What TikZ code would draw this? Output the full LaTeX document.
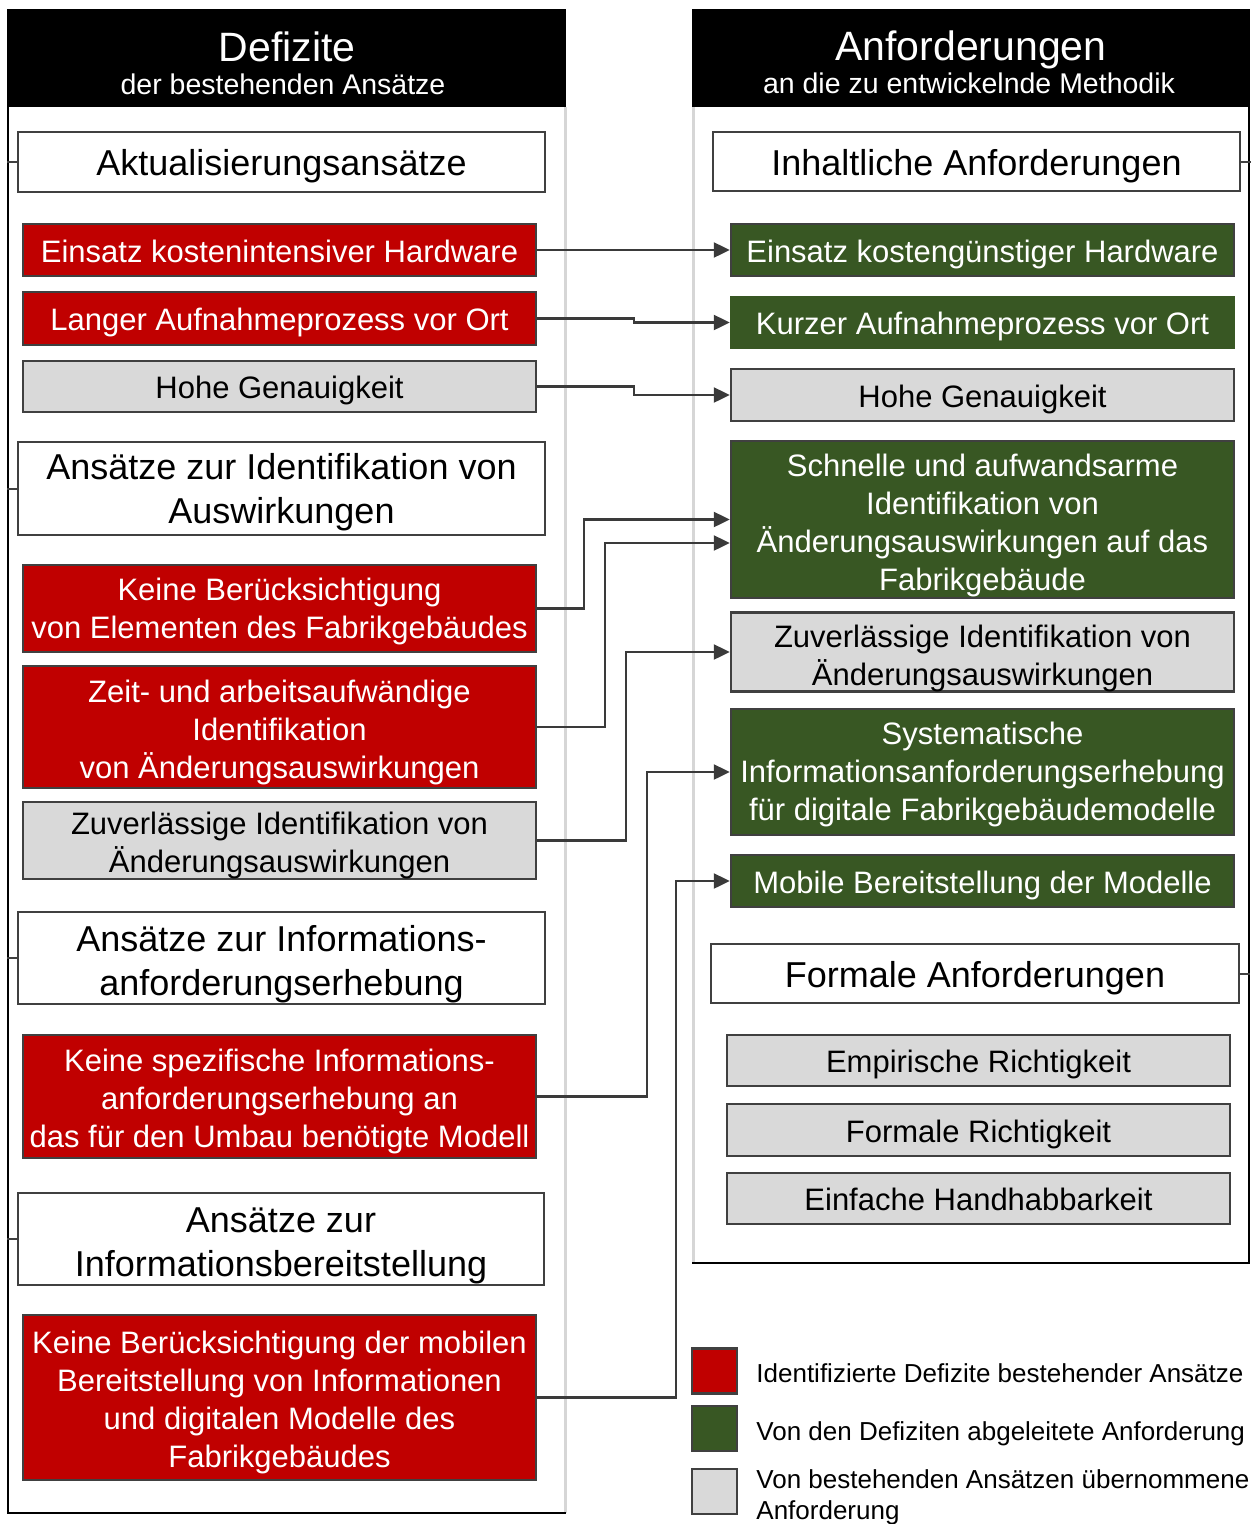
\documentclass[tikz,border=0pt]{standalone}
\usepackage{fontspec}
\setmainfont{Liberation Sans}
\usetikzlibrary{arrows.meta}

\definecolor{defred}{HTML}{C00000}
\definecolor{reqgreen}{HTML}{385723}
\definecolor{takengray}{HTML}{D9D9D9}
\definecolor{edgegray}{HTML}{404040}
\definecolor{wirecol}{HTML}{3A3A3A}
\definecolor{sidegray}{HTML}{D6D6D6}

% box given by its left, top, right and bottom edges
\newcommand\mkbox[6]{\node[#1, minimum width={#4-#2}, minimum height={#5-#3}] (#6) at ({(#2+#4)/2},{(#3+#5)/2})}
% fixed line box (ascent and descent of the font), so text sits at the same
% height whatever letters it contains
\newcommand\linestrut{\rule[-0.212em]{0pt}{1.117em}}

\tikzset{
  drop/.style={execute at begin node={\rule[-0.212em]{0pt}{\dimexpr1.117em+#1\relax}}},
  % text block of several lines: the strut stands on the last baseline and
  % reaches above the first line
  multiadj/.style 2 args={execute at begin node={\rule{0pt}{\dimexpr1.05em+#1\baselineskip+#2\relax}}},
  multi/.style={multiadj={#1}{0pt}},
  base/.style={draw=edgegray, line width=2.4pt, inner sep=0pt, align=center,
               font=\fontsize{31}{38}\selectfont,
               drop=3pt, execute at end node=\linestrut},
  redbox/.style={base, fill=defred, text=white},
  greenbox/.style={base, fill=reqgreen, text=white},
  graybox/.style={base, fill=takengray, text=black},
  catbox/.style={base, fill=white, text=black, font=\fontsize{36}{44}\selectfont},
  headtitle/.style={text=white, inner sep=0pt, anchor=base, font=\fontsize{41}{48}\selectfont},
  headsub/.style={text=white, inner sep=0pt, anchor=base, font=\fontsize{28.5}{34}\selectfont},
  tick/.style={draw=edgegray, line width=2pt},
  conn/.style={draw=wirecol, line width=2.2pt, -{Triangle[length=16pt, width=15pt]}},
  legbox/.style={draw=edgegray, line width=2.4pt, inner sep=0pt, minimum size=45},
  legtext/.style={anchor=west, inner sep=0pt, align=left, font=\fontsize{26}{31}\selectfont,
               execute at begin node=\linestrut, execute at end node=\linestrut},
}

\begin{document}
\begin{tikzpicture}[x=1pt, y=-1pt]
\fill[white] (0,0) rectangle (1260,1524);
\useasboundingbox (0,0) rectangle (1260,1524);

% ---------- left panel: deficits ----------
\fill[black] (7,9) rectangle (566,107);
\draw[sidegray, line width=3pt] (565,107) -- (565,1513);
\draw[black, line width=2.6pt] (8,107) -- (8,1513) -- (566,1513);
\node[headtitle] (lt) at (287,61) {Defizite};
\node[headsub] (ls) at (283,94) {der bestehenden Ansätze};

\mkbox{catbox}{18}{132}{545}{192}{c1} {Aktualisierungsansätze};
\mkbox{redbox}{23}{224}{536}{276}{d1} {Einsatz kostenintensiver Hardware};
\mkbox{redbox}{23}{292}{536}{345}{d2} {Langer Aufnahmeprozess vor Ort};
\mkbox{graybox}{23}{361}{536}{412}{d3} {Hohe Genauigkeit};
\mkbox{catbox, multiadj={1}{-4pt}}{18}{442}{545}{535}{c2} {Ansätze zur Identifikation von\\Auswirkungen};
\mkbox{redbox, multiadj={1}{-5pt}}{23}{565}{536}{652}{d4} {Keine Berücksichtigung\\von Elementen des Fabrikgebäudes};
\mkbox{redbox, multi=2}{23}{666}{536}{788}{d5} {Zeit- und arbeitsaufwändige\\Identifikation\\von Änderungsauswirkungen};
\mkbox{graybox, multi=1}{23}{803}{536}{878}{d6} {Zuverlässige Identifikation von\\Änderungsauswirkungen};
\mkbox{catbox, multi=1}{18}{912}{545}{1004}{c3} {Ansätze zur Informations-\\anforderungserhebung};
\mkbox{redbox, multi=2}{23}{1035}{536}{1158}{d7} {Keine spezifische Informations-\\anforderungserhebung an\\das für den Umbau benötigte Modell};
\mkbox{catbox, multi=1}{18}{1193}{544}{1285}{c4} {Ansätze zur\\Informationsbereitstellung};
\mkbox{redbox, multi=3}{23}{1315}{536}{1480}{d8} {Keine Berücksichtigung der mobilen\\Bereitstellung von Informationen\\und digitalen Modelle des\\Fabrikgebäudes};

\foreach \c in {c1,c2,c3,c4} \draw[tick] (\c.west) -- ++(-10,0);

% ---------- right panel: requirements ----------
\fill[black] (692,9) rectangle (1250,107);
\draw[sidegray, line width=3pt] (693,107) -- (693,1263);
\draw[black, line width=2.6pt] (1249,107) -- (1249,1263) -- (692,1263);
\node[headtitle] (rt) at (971,60) {Anforderungen};
\node[headsub] (rs) at (969,93) {an die zu entwickelnde Methodik};

\mkbox{catbox}{713}{132}{1240}{191}{k1} {Inhaltliche Anforderungen};
\mkbox{greenbox}{731}{224}{1234}{276}{r1} {Einsatz kostengünstiger Hardware};
\mkbox{greenbox, draw=reqgreen}{731}{297}{1234}{348}{r2} {Kurzer Aufnahmeprozess vor Ort};
\mkbox{graybox}{731}{369}{1234}{421}{r3} {Hohe Genauigkeit};
\mkbox{greenbox, multiadj={3}{2pt}}{731}{441}{1234}{598}{r4} {Schnelle und aufwandsarme\\Identifikation von\\Änderungsauswirkungen auf das\\Fabrikgebäude};
\mkbox{graybox, multiadj={1}{2pt}}{731}{615}{1234}{689}{r5} {Zuverlässige Identifikation von\\Änderungsauswirkungen};
\mkbox{greenbox, multiadj={2}{-6pt}}{731}{709}{1234}{835}{r6} {Systematische\\Informationsanforderungserhebung\\für digitale Fabrikgebäudemodelle};
\mkbox{greenbox}{731}{855}{1234}{907}{r7} {Mobile Bereitstellung der Modelle};
\mkbox{catbox}{711}{944}{1239}{1003}{k2} {Formale Anforderungen};
\mkbox{graybox}{727}{1035}{1230}{1086}{f1} {Empirische Richtigkeit};
\mkbox{graybox}{727}{1104}{1230}{1156}{f2} {Formale Richtigkeit};
\mkbox{graybox}{727}{1173}{1230}{1224}{f3} {Einfache Handhabbarkeit};

\foreach \k in {k1,k2} \draw[tick] (\k.east) -- ++(10,0);

% ---------- deficit -> requirement ----------
\draw[conn] (d1.east) -- (r1.west);
\draw[conn] (d2.east) -- ++(97,0) |- (r2.west);
\draw[conn] (d3.east) -- ++(97,0) |- (r3.west);
\draw[conn] (d4.east) -- ++(47,0) |- (r4.west);
\draw[conn] (d5.east) -- ++(68,0) |- ([yshift=-23.5pt]r4.west);
\draw[conn] (d6.east) -- ++(89,0) |- (r5.west);
\draw[conn] (d7.east) -- ++(110,0) |- (r6.west);
\draw[conn] (d8.east) -- ++(139,0) |- (r7.west);

% ---------- legend ----------
\node[legbox, fill=defred] (l1) at (714.5,1371) {};
\node[legbox, fill=reqgreen] (l2) at (714.5,1428.5) {};
\node[legbox, fill=takengray] (l3) at (714.5,1491.5) {};
\node[legtext] (t1) at ([xshift=18pt, yshift=-2pt]l1.east) {Identifizierte Defizite bestehender Ansätze};
\node[legtext] (t2) at ([xshift=18pt, yshift=-3pt]l2.east) {Von den Defiziten abgeleitete Anforderung};
\node[legtext] (t3) at ([xshift=18pt, yshift=-6pt]l3.east) {Von bestehenden Ansätzen übernommene\\Anforderung};
\end{tikzpicture}
\end{document}
